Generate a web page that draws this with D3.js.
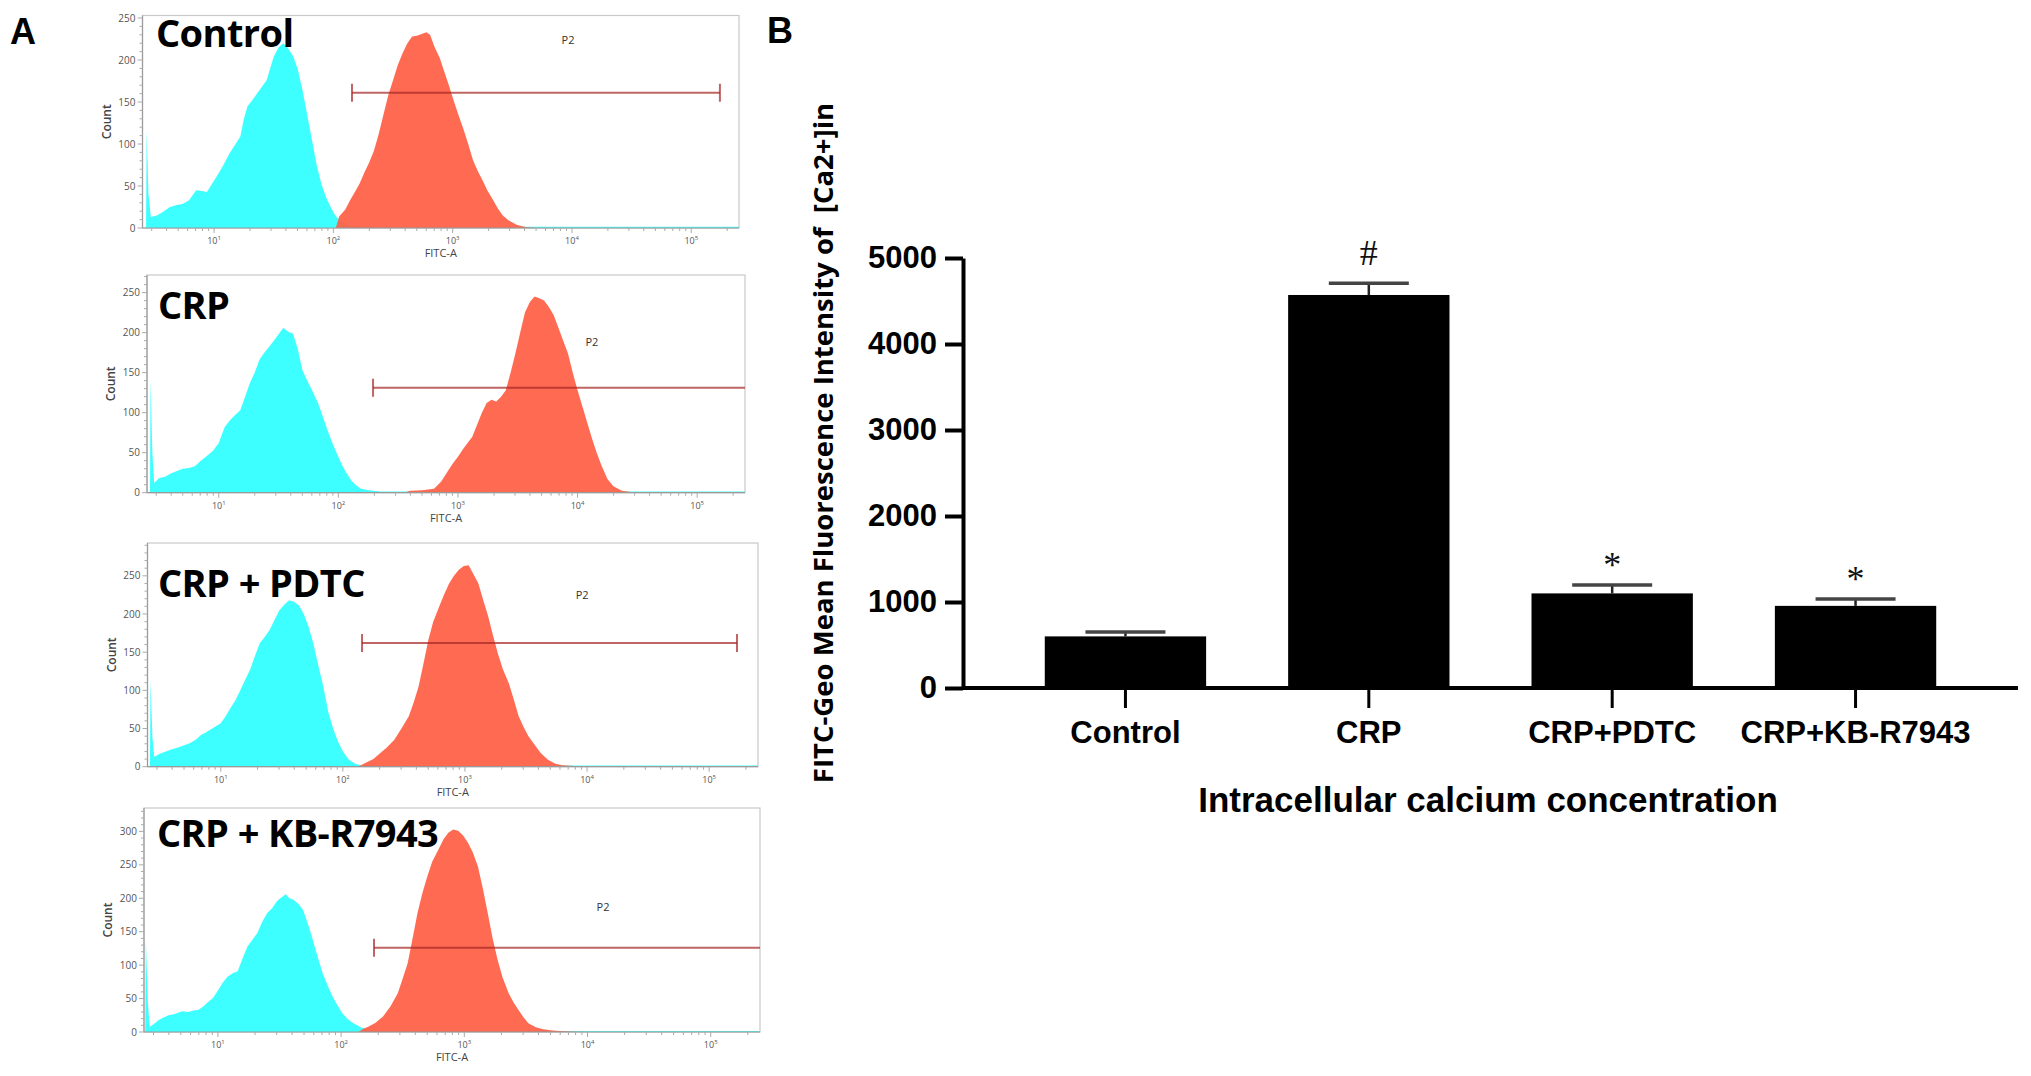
<!DOCTYPE html>
<html>
<head>
<meta charset="utf-8">
<script src="https://cdn.jsdelivr.net/npm/d3@7/dist/d3.min.js"></script>
<style>
  body { margin: 0; background: #fff; }
</style>
</head>
<body>
<svg id="fig" width="2031" height="1076"></svg>
<script>
// ---- panel A: flow cytometry histograms, [log10(FITC-A), count] ----
var histNames = ["Control", "CRP", "CRP + PDTC", "CRP + KB-R7943"];

var ctrlCyan = [[0.40,0],[0.43,0],[0.435,117],[0.45,40],[0.47,13],[0.52,15],[0.57,19],[0.63,25],[0.68,27],[0.74,29],[0.79,33],[0.85,45],[0.90,44],[0.94,43],[0.98,52],[1.02,61],[1.07,73],[1.13,89],[1.18,100],[1.22,109],[1.25,130],[1.28,145],[1.32,152],[1.36,160],[1.40,168],[1.44,176],[1.47,190],[1.50,204],[1.54,215],[1.58,220],[1.62,214],[1.66,205],[1.70,190],[1.74,165],[1.78,135],[1.82,105],[1.86,75],[1.90,52],[1.94,36],[1.98,24],[2.02,14],[2.07,8],[2.12,3],[2.25,1.5],[5.4,1.5]];
var ctrlRed = [[2.02,0],[2.05,14],[2.10,22],[2.14,33],[2.18,43],[2.22,53],[2.26,66],[2.30,78],[2.34,92],[2.38,112],[2.42,135],[2.46,158],[2.50,176],[2.54,194],[2.58,208],[2.62,220],[2.66,228],[2.70,229],[2.74,231],[2.78,233],[2.81,230],[2.85,215],[2.89,203],[2.93,186],[2.97,169],[3.01,151],[3.05,134],[3.09,118],[3.13,100],[3.17,81],[3.21,68],[3.25,57],[3.29,45],[3.34,33],[3.38,23],[3.42,15],[3.47,9],[3.54,3.5],[3.62,1],[3.70,0]];

var crpCyan = [[0.40,0],[0.425,0],[0.43,141],[0.445,50],[0.46,12],[0.50,18],[0.55,20],[0.60,24],[0.65,27],[0.70,30],[0.75,31],[0.80,33],[0.85,40],[0.90,46],[0.95,52],[1.00,62],[1.05,82],[1.09,90],[1.13,96],[1.18,103],[1.22,120],[1.26,137],[1.30,150],[1.34,166],[1.38,175],[1.42,182],[1.46,190],[1.50,198],[1.54,206],[1.58,201],[1.62,199],[1.66,180],[1.70,153],[1.74,140],[1.78,128],[1.83,112],[1.87,95],[1.91,78],[1.95,62],[1.99,48],[2.03,35],[2.07,24],[2.11,15],[2.15,9],[2.19,5],[2.25,3],[2.35,1.5],[5.4,1.5]];
var crpRed = [[2.55,0],[2.60,2.5],[2.70,3],[2.80,5],[2.86,14],[2.92,28],[2.96,37],[3.00,45],[3.04,54],[3.08,62],[3.12,70],[3.16,85],[3.20,100],[3.24,112],[3.28,116],[3.32,114],[3.36,120],[3.40,128],[3.44,150],[3.48,174],[3.52,200],[3.56,225],[3.60,238],[3.64,245],[3.68,243],[3.72,240],[3.76,232],[3.80,222],[3.84,206],[3.88,190],[3.92,174],[3.96,150],[4.00,128],[4.04,108],[4.08,88],[4.12,68],[4.16,50],[4.20,34],[4.25,17],[4.30,8],[4.37,2.5],[4.45,1],[4.55,0]];

var pdtcCyan = [[0.40,0],[0.42,0],[0.425,113],[0.44,40],[0.455,13],[0.50,17],[0.55,20],[0.60,23],[0.65,25],[0.70,28],[0.75,31],[0.80,36],[0.84,42],[0.88,45],[0.92,49],[0.96,53],[1.00,57],[1.04,66],[1.08,77],[1.12,87],[1.16,100],[1.20,114],[1.24,127],[1.28,145],[1.32,162],[1.36,170],[1.40,179],[1.44,192],[1.48,205],[1.52,212],[1.56,218],[1.60,216],[1.64,211],[1.68,200],[1.72,183],[1.76,160],[1.80,132],[1.84,105],[1.88,72],[1.92,50],[1.96,33],[2.00,20],[2.05,9],[2.10,4],[2.15,2],[2.25,1.5],[5.4,1.5]];
var pdtcRed = [[2.12,0],[2.16,3],[2.20,6],[2.25,10],[2.30,17],[2.36,25],[2.42,35],[2.48,50],[2.54,66],[2.58,84],[2.62,105],[2.66,135],[2.70,166],[2.74,190],[2.79,210],[2.83,226],[2.87,240],[2.91,250],[2.95,258],[2.99,263],[3.03,264],[3.07,252],[3.11,240],[3.15,218],[3.19,197],[3.23,172],[3.27,148],[3.31,128],[3.36,109],[3.40,88],[3.44,66],[3.48,52],[3.52,40],[3.56,31],[3.62,18],[3.68,9],[3.74,4],[3.80,2],[3.90,1],[4.0,0]];

var kbCyan = [[0.40,0],[0.41,0],[0.415,138],[0.43,50],[0.445,8],[0.48,12],[0.52,18],[0.55,21],[0.60,25],[0.65,27],[0.71,31],[0.76,30],[0.80,32],[0.84,33],[0.88,38],[0.92,45],[0.96,51],[1.00,62],[1.04,74],[1.08,83],[1.12,88],[1.16,91],[1.20,110],[1.24,128],[1.28,138],[1.32,148],[1.36,165],[1.40,178],[1.44,185],[1.48,196],[1.52,202],[1.55,206],[1.58,200],[1.61,198],[1.65,192],[1.69,183],[1.73,162],[1.77,138],[1.81,112],[1.85,88],[1.89,70],[1.93,53],[1.97,40],[2.01,28],[2.05,20],[2.10,13],[2.16,7],[2.22,3],[2.30,1.5],[5.4,1.5]];
var kbRed = [[2.14,0],[2.18,5],[2.22,8],[2.28,14],[2.34,23],[2.40,38],[2.46,58],[2.50,80],[2.54,103],[2.58,140],[2.62,178],[2.66,208],[2.70,233],[2.74,255],[2.79,273],[2.83,288],[2.87,298],[2.91,303],[2.95,301],[2.99,294],[3.03,283],[3.07,268],[3.11,248],[3.15,215],[3.19,178],[3.23,140],[3.27,108],[3.31,82],[3.36,58],[3.40,44],[3.44,33],[3.48,22],[3.52,13],[3.58,7],[3.64,4],[3.70,2.5],[3.77,1.5],[3.9,0.5],[4.0,0]];

var cyanSeries = [ctrlCyan, crpCyan, pdtcCyan, kbCyan];
var redSeries = [ctrlRed, crpRed, pdtcRed, kbRed];
var countMax = [253, 272, 293, 335];
var countTicks = [[0,50,100,150,200,250], [0,50,100,150,200,250], [0,50,100,150,200,250], [0,50,100,150,200,250,300]];
var decadeTicks = [1, 2, 3, 4, 5];
// P2 gate: from / to (log10), height (count); label position
var gateFrom = [2.156, 2.29, 2.157, 2.267];
var gateTo = [5.24, 5.6, 5.228, 5.6];
var gateCount = [161, 131, 162, 126];
var p2Log = [3.967, 4.12, 3.96, 4.126];
var p2Count = [224, 188, 225, 187];

// ---- panel B: bar chart ----
var groups = ["Control", "CRP", "CRP+PDTC", "CRP+KB-R7943"];
var means = [600, 4570, 1100, 955];
var sems = [50, 135, 98, 80];
var marks = ["", "#", "*", "*"];
var yTicksB = [0, 1000, 2000, 3000, 4000, 5000];

var svg = d3.select("#fig");

// panel letters
svg.append("text").attr("x", 10).attr("y", 44).text("A")
    .attr("font-family", "Liberation Sans, Arial").attr("font-weight", "bold").attr("font-size", 36);
svg.append("text").attr("x", 767).attr("y", 43).text("B")
    .attr("font-family", "Liberation Sans, Arial").attr("font-weight", "bold").attr("font-size", 36);

var boxes = [
    {l: 142.5, r: 739, t: 15.5, b: 228},
    {l: 147, r: 745, t: 275, b: 492.7},
    {l: 147.5, r: 758, t: 543, b: 766.7},
    {l: 144, r: 760, t: 808, b: 1032}
];
var labelPos = [[156, 46.5], [158, 319], [158, 597], [157, 847]];

boxes.forEach(function (box, i) {
    drawHist(i, box);
});

function drawHist(i, box) {
    var g = svg.append("g");
    var x = d3.scaleLog().domain([Math.pow(10, 0.4), Math.pow(10, 5.4)]).range([box.l, box.r]);
    var y = d3.scaleLinear().domain([0, countMax[i]]).range([box.b, box.t]);
    var fx = function (v) { return x(Math.pow(10, v)); };

    svg.append("clipPath").attr("id", "clip" + i)
        .append("rect").attr("x", box.l).attr("y", box.t)
        .attr("width", box.r - box.l).attr("height", box.b - box.t);

    g.append("rect")
        .attr("x", box.l).attr("y", box.t)
        .attr("width", box.r - box.l).attr("height", box.b - box.t)
        .attr("fill", "#fff").attr("stroke", "#c9c9c9").attr("stroke-width", 1.2);

    var area = d3.area()
        .x(function (d) { return fx(d[0]); })
        .y0(y(0))
        .y1(function (d) { return y(d[1]); });

    var plot = g.append("g").attr("clip-path", "url(#clip" + i + ")");
    plot.append("path").datum(cyanSeries[i]).attr("d", area).attr("fill", "#3effff");
    plot.append("path").datum(redSeries[i]).attr("d", area).attr("fill", "#ff5f45").attr("fill-opacity", 0.93);

    // gate
    var gy = y(gateCount[i]);
    var x0 = fx(gateFrom[i]), x1 = fx(gateTo[i]);
    plot.append("line").attr("x1", x0).attr("x2", x1).attr("y1", gy).attr("y2", gy)
        .attr("stroke", "#a82828").attr("stroke-opacity", 0.72).attr("stroke-width", 2);
    [x0, x1].forEach(function (xe) {
        if (xe < box.r) {
            plot.append("line").attr("x1", xe).attr("x2", xe).attr("y1", gy - 9).attr("y2", gy + 9)
                .attr("stroke", "#a82828").attr("stroke-opacity", 0.72).attr("stroke-width", 2);
        }
    });
    g.append("text").attr("x", fx(p2Log[i])).attr("y", y(p2Count[i])).attr("dy", "0.35em")
        .attr("text-anchor", "middle").attr("font-family", "Open Sans").attr("font-size", 11)
        .attr("fill", "#333").text("P2");

    // y axis
    g.append("line").attr("x1", box.l).attr("x2", box.l).attr("y1", box.t).attr("y2", box.b)
        .attr("stroke", "#9a9a9a").attr("stroke-width", 1.2);
    d3.range(0, countMax[i], 10).forEach(function (v) {
        var major = v % 50 === 0;
        g.append("line").attr("x1", box.l - (major ? 5 : 3)).attr("x2", box.l)
            .attr("y1", y(v)).attr("y2", y(v)).attr("stroke", "#aaa").attr("stroke-width", 1);
    });
    g.selectAll(".yt").data(countTicks[i]).enter().append("text")
        .attr("x", box.l - 7).attr("y", function (d) { return y(d); }).attr("dy", "0.35em")
        .attr("text-anchor", "end").attr("font-family", "Open Sans").attr("font-size", 10)
        .attr("fill", "#555").text(function (d) { return d; });
    g.append("text")
        .attr("transform", "translate(" + (box.l - 32) + "," + ((box.t + box.b) / 2) + ") rotate(-90)")
        .attr("text-anchor", "middle").attr("font-family", "Open Sans").attr("font-weight", 600)
        .attr("font-size", 12).attr("fill", "#444").text("Count");

    // x axis (log, minor ticks)
    g.append("line").attr("x1", box.l).attr("x2", box.r).attr("y1", box.b).attr("y2", box.b)
        .attr("stroke", "#9a9a9a").attr("stroke-width", 1.2);
    for (var dcd = 0; dcd <= 5; dcd++) {
        for (var m = 1; m <= 9; m++) {
            var v = m * Math.pow(10, dcd);
            var xv = x(v);
            if (xv < box.l || xv > box.r) continue;
            g.append("line").attr("x1", xv).attr("x2", xv).attr("y1", box.b).attr("y2", box.b + (m === 1 ? 5 : 3))
                .attr("stroke", "#aaa").attr("stroke-width", 1);
        }
    }
    var xl = g.selectAll(".xt").data(decadeTicks).enter().append("text")
        .attr("x", function (d) { return fx(d); }).attr("y", box.b + 16)
        .attr("text-anchor", "middle").attr("font-family", "Open Sans").attr("font-size", 9)
        .attr("fill", "#555");
    xl.append("tspan").text("10");
    xl.append("tspan").attr("dy", -4).attr("font-size", 6).text(function (d) { return d; });
    g.append("text").attr("x", (box.l + box.r) / 2).attr("y", box.b + 29)
        .attr("text-anchor", "middle").attr("font-family", "Open Sans").attr("font-size", 11)
        .attr("fill", "#444").text("FITC-A");

    // condition label
    g.append("text").attr("x", labelPos[i][0]).attr("y", labelPos[i][1])
        .attr("font-family", "Open Sans").attr("font-weight", "bold").attr("font-size", 38)
        .attr("letter-spacing", -0.6).attr("fill", "#000").text(histNames[i]);
}

// ---- panel B ----
var gb = svg.append("g");
var xB = d3.scaleBand().domain(groups).range([963, 2018]).paddingInner(0.337).paddingOuter(0.336);
var yB = d3.scaleLinear().domain([0, 5000]).range([688, 258]);

gb.selectAll(".bar").data(groups).enter().append("rect")
    .attr("x", function (d) { return xB(d); })
    .attr("y", function (d, i) { return yB(means[i]); })
    .attr("width", xB.bandwidth())
    .attr("height", function (d, i) { return yB(0) - yB(means[i]); })
    .attr("fill", "#000");

groups.forEach(function (d, i) {
    var cx = xB(d) + xB.bandwidth() / 2;
    var top = yB(means[i] + sems[i]);
    gb.append("line").attr("x1", cx).attr("x2", cx).attr("y1", yB(means[i])).attr("y2", top)
        .attr("stroke", "#222").attr("stroke-width", 2.5);
    gb.append("line").attr("x1", cx - 40).attr("x2", cx + 40).attr("y1", top).attr("y2", top)
        .attr("stroke", "#444").attr("stroke-width", 3.5);
    if (marks[i]) {
        gb.append("text").attr("x", cx).attr("y", top - (marks[i] === "#" ? 18 : 8))
            .attr("text-anchor", "middle").attr("font-family", "Liberation Serif, Times New Roman")
            .attr("font-size", 36).attr("fill", "#111").text(marks[i]);
    }
});

var yAxis = gb.append("g").attr("transform", "translate(963,0)")
    .call(d3.axisLeft(yB).tickValues(yTicksB).tickFormat(d3.format("d"))
        .tickSize(18).tickSizeOuter(0).tickPadding(8));
var xAxis = gb.append("g").attr("transform", "translate(0,688)")
    .call(d3.axisBottom(xB).tickSize(20).tickSizeOuter(0).tickPadding(13));
[yAxis, xAxis].forEach(function (a) {
    a.select(".domain").attr("stroke", "#000").attr("stroke-width", 4);
    a.selectAll(".tick line").attr("stroke", "#000").attr("stroke-width", 4);
    a.selectAll(".tick text").attr("font-family", "Liberation Sans, Arial").attr("font-weight", "bold")
        .attr("font-size", 31).attr("fill", "#000");
});
xAxis.select(".domain").attr("d", "M963,0H2018");
xAxis.selectAll(".tick line").attr("stroke-width", 3);

gb.append("text").attr("x", 1488).attr("y", 812).attr("text-anchor", "middle")
    .attr("font-family", "Liberation Sans, Arial").attr("font-weight", "bold").attr("font-size", 35)
    .text("Intracellular calcium concentration");

gb.append("text").attr("transform", "translate(833,443) rotate(-90)").attr("text-anchor", "middle")
    .attr("font-family", "Open Sans").attr("font-weight", "bold").attr("font-size", 27.5)
    .attr("xml:space", "preserve").style("white-space", "pre")
    .text("FITC-Geo Mean Fluorescence Intensity of  [Ca2+]in");
</script>
</body>
</html>
